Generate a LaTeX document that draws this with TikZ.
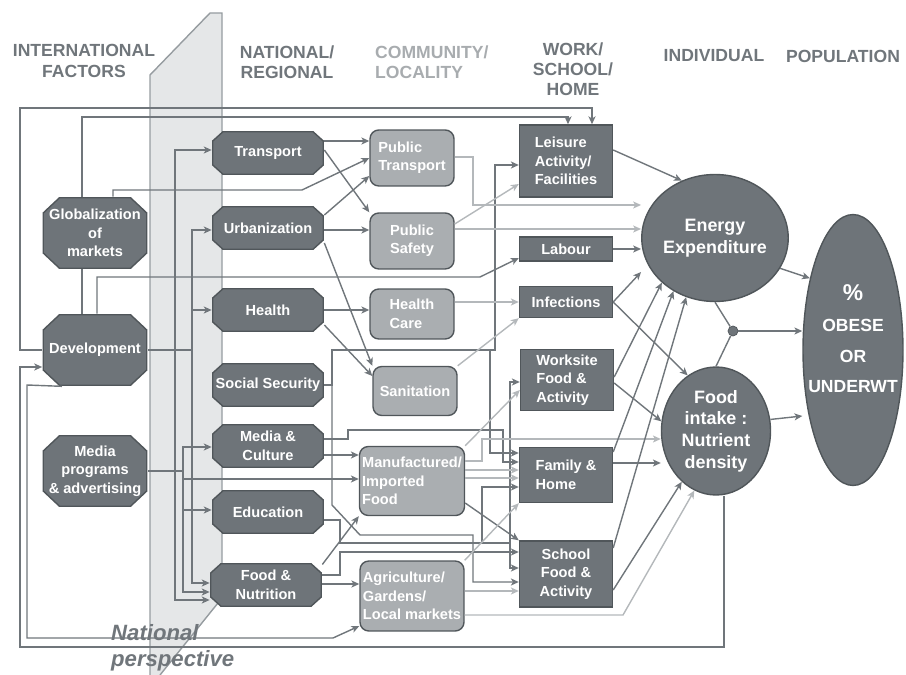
\documentclass[tikz,border=0pt]{standalone}
\usepackage{fontspec}
\setmainfont{Liberation Sans}
\usetikzlibrary{shapes.geometric,arrows.meta}
\definecolor{boxdark}{RGB}{110,116,121}
\definecolor{edgedark}{RGB}{80,86,90}
\definecolor{boxlight}{RGB}{170,174,177}
\definecolor{linedark}{RGB}{112,118,123}
\definecolor{linelight}{RGB}{180,184,187}
\definecolor{bandgray}{RGB}{229,231,232}
\definecolor{bandedge}{RGB}{150,156,160}
\definecolor{headlight}{RGB}{168,172,175}

\begin{document}
\begin{tikzpicture}
[
x=0.02cm, y=-0.02cm,
>={Stealth[length=4.5pt,width=4pt,inset=1.2pt]},
txt/.style={font=\fontsize{8.3}{10.5}\selectfont\bfseries, text=white},
octo/.style 2 args={path picture={
  \filldraw[fill=boxdark, draw=edgedark, line width=0.8pt]
    ([shift={(#1,-0.4pt)}]path picture bounding box.north west) -- ([shift={(-#1,-0.4pt)}]path picture bounding box.north east)
    -- ([shift={(-0.4pt,-#2)}]path picture bounding box.north east) -- ([shift={(-0.4pt,#2)}]path picture bounding box.south east)
    -- ([shift={(-#1,0.4pt)}]path picture bounding box.south east) -- ([shift={(#1,0.4pt)}]path picture bounding box.south west)
    -- ([shift={(0.4pt,#2)}]path picture bounding box.south west) -- ([shift={(0.4pt,-#2)}]path picture bounding box.north west)
    -- cycle;}},
intl/.style={txt, octo={0.34cm}{0.32cm}, rectangle, minimum width=2.1cm, minimum height=1.44cm, inner sep=0pt, align=center},
natl/.style={txt, octo={0.22cm}{0.2cm}, rectangle, minimum width=2.24cm, minimum height=0.88cm, inner sep=0pt, align=center},
comm/.style 2 args={txt, rectangle, rounded corners=5pt, draw=edgedark, fill=boxlight, line width=0.8pt,
  minimum width=#1, minimum height=#2, inner sep=1pt, align=left},
wsh/.style={txt, rectangle, draw=edgedark, fill=boxdark, line width=0.8pt, minimum width=1.86cm,
  minimum height=#1, inner sep=1pt, align=left},
indiv/.style 2 args={ellipse, draw=edgedark, fill=boxdark, line width=0.8pt, minimum width=#1, minimum height=#2,
  inner sep=0pt, font=\fontsize{10.2}{12.3}\selectfont\bfseries, text=white, align=center},
head/.style={font=\fontsize{10}{11.5}\selectfont\bfseries, text=linedark, align=center},
conn/.style={draw=linedark, line width=0.8pt},
lconn/.style={draw=linelight, line width=0.8pt},
]
\useasboundingbox (0,0) rectangle (906,675);

%National perspective band
\filldraw[fill=bandgray, draw=bandedge, line width=0.8pt] (150,675) -- (150,75) -- (210,13) -- (222,13) -- (222,598) -- (160,675);
\node[font=\fontsize{12.6}{14.5}\selectfont\bfseries\itshape, text=linedark, align=left, anchor=west] (natp) at (105,648) {National\\perspective};

%Headings
\node[head] (hint) at (84,61) {INTERNATIONAL\\FACTORS};
\node[head] (hnat) at (287,62) {NATIONAL/\\REGIONAL};
\node[head, text=headlight, align=left, anchor=west] (hcom) at (369,62) {COMMUNITY/\\LOCALITY};
\node[head] (hwsh) at (573,69) {WORK/\\SCHOOL/\\HOME};
\node[head] (hind) at (714,56) {INDIVIDUAL};
\node[head] (hpop) at (843,56) {POPULATION};

%Place the nodes
\node[intl] (glob) at (95,233) {Globalization\\of\\markets};
\node[intl] (dev) at (95,350) {Development};
\node[intl] (media) at (95,471) {Media\\programs\\\& advertising};

\node[natl] (trans) at (268,153) {Transport};
\node[natl] (urb) at (268,228) {Urbanization};
\node[natl] (hlth) at (268,310) {Health};
\node[natl] (socsec) at (268,385) {Social Security};
\node[natl] (medcul) at (268,446) {Media \&\\Culture};
\node[natl] (edu) at (268,512) {Education};
\node[natl] (foodnut) at (266,585) {Food \&\\Nutrition};

\node[comm={1.68cm}{1.12cm}] (pubtr) at (412,158) {Public\\Transport};
\node[comm={1.68cm}{1.12cm}] (pubsaf) at (412,241) {Public\\Safety};
\node[comm={1.68cm}{1.0cm}] (hcare) at (412,314) {Health\\Care};
\node[comm={1.68cm}{0.98cm}] (sanit) at (415,391) {Sanitation};
\node[comm={2.1cm}{1.38cm}] (manuf) at (412,481) {Manufactured/\\Imported\\Food};
\node[comm={2.08cm}{1.4cm}] (agri) at (412,596) {Agriculture/\\Gardens/\\Local markets};

\node[wsh=1.44cm] (leis) at (566,161) {Leisure\\Activity/\\Facilities};
\node[wsh=0.48cm] (labour) at (566,249) {Labour};
\node[wsh=0.62cm] (infec) at (566,302) {Infections};
\node[wsh=1.22cm] (works) at (567,380) {Worksite\\Food \&\\Activity};
\node[wsh=1.1cm] (family) at (566,475) {Family \&\\Home};
\node[wsh=1.32cm, align=center] (school) at (566,574) {School\\Food \&\\Activity};

\node[indiv={2.12cm}{2.54cm}] (energy) at (715,238) {Energy\\Expenditure};
\node[indiv={2.18cm}{2.56cm}] (foodin) at (716,431) {Food\\intake :\\Nutrient\\density};
\node[circle, fill=boxdark, draw=edgedark, minimum size=0.2cm, inner sep=0pt] (jn) at (733,331) {};
\node[indiv={2.0cm}{5.42cm}] (popul) at (853,350) {};
\node[font=\fontsize{10}{17.5}\selectfont\bfseries, text=white, align=center] (popt) at (853,339)
  {{\fontsize{13}{17.5}\selectfont\%}\\OBESE\\OR\\UNDERWT};

%Draw the connections
%top loops
\draw[conn,->] (dev.west) -- (20,350) -- (20,108) -- (592,108) -- (leis.north -| 592,0);
\draw[conn,->] (glob.north -| 82,0) -- (82,117) -- (568,117) -- (leis.north -| 568,0);
\draw[conn] (glob.south -| 82,0) -- (dev.north -| 82,0);
\draw[conn,->] (glob.north -| 113,0) -- (113,190) -- (302,190) -- (pubtr.west);
\draw[conn,->] (dev.north -| 97,0) -- (97,277) -- (480,277) -- (labour.west |- 0,258);
%buses
\draw[conn] (dev.east) -- (192,350);
\draw[conn,->] (175,350) -- (175,150) -- (trans.west |- 0,150);
\draw[conn,->] (175,350) -- (175,600) -- (foodnut.west |- 0,600);
\draw[conn,->] (192,350) -- (192,230) -- (urb.west |- 0,230);
\draw[conn,->] (192,310) -- (hlth.west |- 0,310);
\draw[conn,->] (192,350) -- (192,583) -- (foodnut.west |- 0,583);
\draw[conn] (media.east) -- (183,471);
\draw[conn,->] (183,471) -- (183,447) -- (medcul.west |- 0,447);
\draw[conn,->] (183,510) -- (edu.west |- 0,510);
\draw[conn,->] (183,471) -- (183,592) -- (foodnut.west |- 0,592);
\draw[conn,->] (183,479) -- (manuf.west |- 0,479);
%bottom loops
\draw[conn,->] (dev.south -| 62,0) -- (27,385) -- (27,638) -- (333,638) -- (agri.west |- 0,626);
\draw[conn,->] (foodin.south -| 724,0) -- (724,647) -- (20,647) -- (20,367) -- (dev.west |- 0,367);
%national to community
\draw[conn,->] (trans.east |- 0,141) -- (pubtr.west |- 0,141);
\draw[conn,->] (trans.east |- 0,150) -- (pubsaf.north west);
\draw[conn,->] (urb.east |- 0,215) -- (pubtr.west |- 0,176);
\draw[conn,->] (urb.east |- 0,230) -- (pubsaf.west |- 0,230);
\draw[conn,->] (urb.east |- 0,243) -- (sanit.north west);
\draw[conn,->] (hlth.east |- 0,310) -- (hcare.west |- 0,310);
\draw[conn,->] (hlth.east |- 0,325) -- (sanit.west |- 0,376);
\draw[conn,->] (socsec.east) -- (332,385) -- (332,350) -- (495,350) -- (495,165) -- (leis.west |- 0,165);
\draw[conn,->] (490,350) -- (490,453) -- (family.west |- 0,453);
\draw[conn,->] (332,385) -- (332,505) -- (360,535) -- (473,535) -- (473,582) -- (school.west |- 0,582);
\draw[conn,->] (medcul.east |- 0,439) -- (348,439) -- (348,430) -- (503,430) -- (503,462) -- (family.west |- 0,462);
\draw[conn,->] (medcul.east |- 0,455) -- (manuf.west |- 0,455);
\draw[conn,->] (edu.east |- 0,520) -- (340,520) -- (340,543) -- (510,543) -- (510,382) -- (works.west |- 0,382);
\draw[conn,->] (510,543) -- (510,568) -- (school.west |- 0,568);
\draw[conn,->] (482,543) -- (482,487) -- (family.west |- 0,487);
\draw[conn,->] (foodnut.east |- 0,575) -- (340,575) -- (340,552) -- (school.west |- 0,552);
\draw[conn,->] (foodnut.east |- 0,584) -- (agri.west |- 0,584);
\draw[conn,->] (foodnut.20) -- (manuf.south west);
%community onwards
\draw[lconn,->] (pubtr.east |- 0,157) -- (473,157) -- (473,205) -- (energy.west |- 0,205);
\draw[lconn,->] (pubsaf.east |- 0,229) -- (energy.west |- 0,229);
\draw[lconn,->] (pubsaf.east |- 0,224) -- (leis.west |- 0,184);
\draw[lconn,->] (hcare.east |- 0,302) -- (infec.west |- 0,302);
\draw[lconn,->] (sanit.north east) -- (infec.south west);
\draw[lconn,->] (manuf.north east) -- (works.west |- 0,390);
\draw[lconn,->] (manuf.east |- 0,461) -- (482,461) -- (482,439) -- (foodin.west |- 0,439);
\draw[lconn,->] (manuf.east |- 0,470) -- (family.west |- 0,470);
\draw[lconn,->] (manuf.east |- 0,478) -- (family.west |- 0,478);
\draw[conn,->] (manuf.east |- 0,503) -- (school.north west);
\draw[lconn,->] (agri.north east) -- (family.south west);
\draw[lconn,->] (agri.east |- 0,591) -- (school.west |- 0,591);
\draw[lconn,->] (agri.east |- 0,615) -- (623,615) -- (foodin.250);
%work/school/home to individual
\draw[conn,->] (leis.east |- 0,150) -- (energy.120);
\draw[conn,->] (labour.east) -- (energy.west |- labour.east);
\draw[conn,->] (infec.east) -- (energy.west |- 0,272);
\draw[conn,->] (infec.east) -- (foodin.117);
\draw[conn,->] (works.east |- 0,377) -- (energy.220);
\draw[conn,->] (works.east |- 0,383) -- (foodin.170);
\draw[conn,->] (family.east |- 0,452) -- (energy.232);
\draw[conn,->] (family.east |- 0,463) -- (foodin.west |- 0,463);
\draw[conn,->] (school.east |- 0,548) -- (energy.244);
\draw[conn,->] (school.east |- 0,590) -- (foodin.236);
%individual to population
\draw[conn] (energy.south) -- (jn) -- (foodin.north);
\draw[conn,->] (jn) -- (popul.west |- jn);
\draw[conn,->] (energy.-25) -- (popul.121);
\draw[conn,->] (foodin.12) -- (popul.west |- 0,416);
\end{tikzpicture}
\end{document}
